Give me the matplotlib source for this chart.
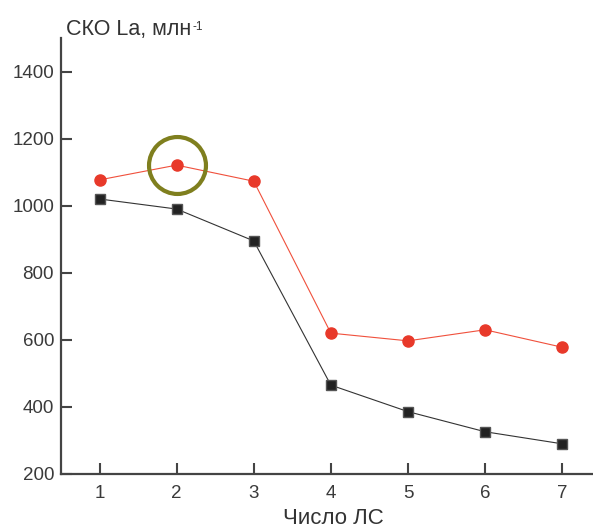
import matplotlib
matplotlib.use("Agg")
import matplotlib.pyplot as plt

x = [1, 2, 3, 4, 5, 6, 7]
red_vals = [1077, 1121, 1073, 620, 597, 630, 578]
black_vals = [1020, 990, 895, 465, 386, 326, 290]
highlight_x = [2]
highlight_y = [1121]
yticks = [200, 400, 600, 800, 1000, 1200, 1400]

plt.rcParams['font.family'] = ['Liberation Sans', 'DejaVu Sans']
fig = plt.figure(figsize=(5.93, 5.27), dpi=100)
ax = fig.add_axes([61/593, 53/527, 532/593, 436/527])

ax.plot(x, red_vals, color='#f0503c', lw=0.8, marker='o', ms=8,
        mfc='#e8392a', mec='#e8392a', zorder=3)
ax.plot(x, black_vals, color='#333333', lw=0.8, marker='s', ms=7,
        mfc='#222222', mec='#555555', zorder=3)
ax.plot(highlight_x, highlight_y, linestyle='none', marker='o', ms=41,
        mfc='none', mec='#7f7f1e', mew=3, zorder=4)

ax.set_xlim(0.5, 7.4)
ax.set_ylim(200, 1500)
ax.set_xticks(x)
ax.set_yticks(yticks)
for s in ['top', 'right']:
    ax.spines[s].set_visible(False)
for s in ['left', 'bottom']:
    ax.spines[s].set_linewidth(1.6)
    ax.spines[s].set_color('#444444')
ax.tick_params(direction='in', length=8, width=1.5, color='#444444',
               labelsize=13.5, labelcolor='#3a3a3a', pad=8)
ax.tick_params(axis='y', pad=5)

t = fig.text(66/593, 1 - 30/527, 'СКО La, млн', fontsize=15.5,
             color='#333333', va='center', ha='left')
fig.canvas.draw()
bb = t.get_window_extent()
fig.text((bb.x1 + 1) / fig.bbox.width, (bb.y1 - 2) / fig.bbox.height, '-1',
         fontsize=8.5, color='#333333', va='top', ha='left')
fig.text(333/593, 1 - 518/527, 'Число ЛС', fontsize=16,
         color='#333333', va='center', ha='center')

fig.savefig('out.png', dpi=100)
